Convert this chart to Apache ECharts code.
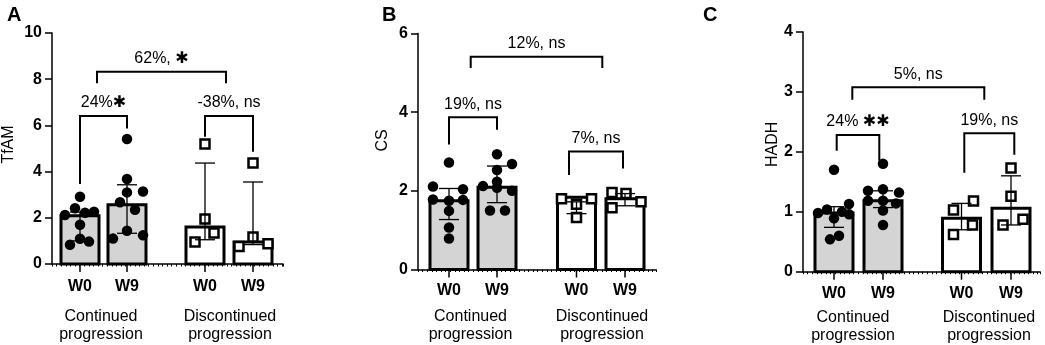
<!DOCTYPE html>
<html>
<head>
<meta charset="utf-8">
<script src="https://cdn.jsdelivr.net/npm/echarts@6/dist/echarts.min.js"></script>
<style>
html,body{margin:0;padding:0;background:#fff;}
#chart{width:1045px;height:345px;}
</style>
</head>
<body>
<div id="chart"></div>
<script>
// ---------- DATA ----------
const categories = ['W0', 'W9', 'W0', 'W9'];
const groupNames = ['Continued\nprogression', 'Discontinued\nprogression'];
const panelLetters = ['A', 'B', 'C'];
const yNames = ['TfAM', 'CS', 'HADH'];
const yMax = [10, 6, 4];
const yStep = [2, 2, 1];

// Panel A – TfAM
const tfamBar = [2.09, 2.57, 1.60, 0.95];
const tfamErrLow = [1.00, 1.33, 1.05, 0.84];
const tfamErrHigh = [2.25, 3.43, 4.37, 3.55];
const tfamContW0 = [2.91, 2.41, 2.12, 2.22, 2.26, 1.70, 1.09, 0.83, 0.97];
const tfamContW9 = [5.41, 3.68, 3.10, 3.14, 2.67, 2.35, 1.44, 1.10, 1.24];
const tfamDiscW0 = [5.19, 1.95, 1.34, 0.95];
const tfamDiscW9 = [4.37, 1.17, 0.76, 0.88];
// [label, top of bracket, left leg end, right leg end]
const tfamBrackets = [['24%✱', 6.41, 3.46, 5.87], ['-38%, ns', 6.41, 5.51, 4.86], ['62%, ✱', 8.32, 7.82, 7.82]];

// Panel B – CS
const csBar = [1.75, 2.09, 1.84, 1.80];
const csErrLow = [1.27, 1.70, 1.42, 1.62];
const csErrHigh = [2.06, 2.63, 1.72, 1.93];
const csContW0 = [2.72, 2.11, 2.04, 1.78, 1.77, 1.75, 1.49, 1.07, 0.79];
const csContW9 = [2.93, 2.68, 2.53, 2.23, 2.12, 2.08, 2.00, 1.50, 1.50];
const csDiscW0 = [1.80, 1.80, 1.66, 1.32];
const csDiscW9 = [1.96, 1.93, 1.72, 1.57];
const csBrackets = [['19%, ns', 3.87, 3.18, 3.55], ['7%, ns', 3.00, 2.40, 2.57], ['12%, ns', 5.41, 5.12, 5.12]];

// Panel C – HADH
const hadhBar = [0.98, 1.185, 0.89, 1.06];
const hadhErrLow = [0.74, 1.07, 0.70, 0.78];
const hadhErrHigh = [1.085, 1.35, 1.14, 1.60];
const hadhContW0 = [1.70, 0.98, 1.04, 1.00, 1.13, 0.89, 0.60, 0.54, 0.96];
const hadhContW9 = [1.80, 1.35, 1.375, 1.32, 1.185, 1.185, 1.14, 1.02, 0.78];
const hadhDiscW0 = [1.18, 1.03, 0.78, 0.62];
const hadhDiscW9 = [1.73, 1.26, 0.875, 0.78];
const hadhBrackets = [['24% ✱✱', 2.28, 2.02, 1.85], ['19%, ns', 2.31, 1.65, 1.95], ['5%, ns', 3.08, 2.87, 2.87]];

const panelData = [
  {bar: tfamBar, lo: tfamErrLow, hi: tfamErrHigh, pts: [tfamContW0, tfamContW9, tfamDiscW0, tfamDiscW9], br: tfamBrackets},
  {bar: csBar, lo: csErrLow, hi: csErrHigh, pts: [csContW0, csContW9, csDiscW0, csDiscW9], br: csBrackets},
  {bar: hadhBar, lo: hadhErrLow, hi: hadhErrHigh, pts: [hadhContW0, hadhContW9, hadhDiscW0, hadhDiscW9], br: hadhBrackets}
];

// ---------- LAYOUT (pixels, x axis in pixel units from the y axis) ----------
const layout = [
  {grid: {left: 52, top: 33, width: 231, height: 231}, cats: [28, 75, 153, 201],
   brX: [[28, 75], [153, 201], [45, 174]], groupX: [49, 178], groupDy: 44, labelMargin: 15,
   nameGap: 35, namePad: 8, letterX: 2,
   jitter: [[0, -5, -15, 5, 14, 0, 0, -10, 9], [0, 0, 0, 16, -7, 8, 0, -14, 16], [0, 0, 9, -10], [0, 0, -14, 15]]},
  {grid: {left: 418, top: 33.5, width: 238, height: 236}, cats: [31, 79, 158.5, 207],
   brX: [[31, 79], [151, 205], [52.7, 184.3]], groupX: [52.5, 184], groupDy: 38.5, labelMargin: 13,
   nameGap: 27, namePad: 22, letterX: 377,
   jitter: [[0, -16, 14, -16, 14, 0, 0, 0, 0], [0, 15, 0, 0, -14, 0, 15, -7, 8], [-15, 15, 0, 0], [-13, 1, 16, -13]]},
  {grid: {left: 803, top: 32, width: 237, height: 239.7}, cats: [31, 80, 158.5, 208],
   brX: [[33.7, 76.3], [161.3, 211.3], [49.3, 181.3]], groupX: [50, 186], groupDy: 36.5, labelMargin: 14,
   nameGap: 22, namePad: 15, letterX: 698,
   jitter: [[0, -16, -7, 8, 15, 0, 5, -4, 15], [0, -15, 0, 16, -15, 0, 13, 0, 0], [12, -8, 11, -8], [0, 0, 12, -8]]}
];

const FONT = 'Liberation Sans, Arial, Helvetica, DejaVu Sans, sans-serif';
const GRAY = '#d4d4d4';
const BAR_W = 38;

const grids = [], xAxes = [], yAxes = [], series = [], titles = [];

layout.forEach((L, p) => {
  const D = panelData[p];
  grids.push(Object.assign({containLabel: false, outerBoundsMode: 'none'}, L.grid));
  xAxes.push({
    type: 'value', gridIndex: p, min: 0, max: L.grid.width, interval: 4.6,
    splitLine: {show: false},
    axisLine: {show: true, onZero: false, lineStyle: {color: '#000', width: 1.5}},
    axisTick: {show: true, length: 2.5, lineStyle: {color: '#000', width: 1}},
    axisLabel: {
      show: true, customValues: L.cats, margin: L.labelMargin,
      color: '#000', fontFamily: FONT, fontWeight: 'bold', fontSize: 16,
      formatter: (v) => {
        let best = 0;
        L.cats.forEach((c, i) => { if (Math.abs(c - v) < Math.abs(L.cats[best] - v)) best = i; });
        return categories[best];
      }
    }
  });
  yAxes.push({
    type: 'value', gridIndex: p, min: 0, max: yMax[p], interval: yStep[p],
    name: yNames[p], nameLocation: 'middle', nameGap: L.nameGap,
    nameTextStyle: {color: '#000', fontFamily: FONT, fontSize: 16, padding: [0, 0, 0, L.namePad]},
    splitLine: {show: false},
    axisLine: {show: true, lineStyle: {color: '#000', width: 1.5}},
    axisTick: {show: true, length: 7, lineStyle: {color: '#000', width: 1.5}},
    axisLabel: {color: '#000', fontFamily: FONT, fontWeight: 'bold', fontSize: 16, margin: 10}
  });
  titles.push({text: panelLetters[p], left: L.letterX, top: 0,
    textStyle: {color: '#000', fontFamily: FONT, fontWeight: 'bold', fontSize: 20}});

  // bars
  series.push({
    type: 'custom', xAxisIndex: p, yAxisIndex: p, z: 1, silent: true, clip: false,
    data: D.bar.map((v, i) => [L.cats[i], v]),
    renderItem: (params, api) => {
      const top = api.coord([api.value(0), api.value(1)]);
      const base = api.coord([api.value(0), 0]);
      return {type: 'rect',
        shape: {x: top[0] - BAR_W / 2, y: top[1], width: BAR_W, height: base[1] - top[1]},
        style: {fill: params.dataIndex < 2 ? GRAY : '#fff', stroke: '#000', lineWidth: 3}};
    }
  });
  // points
  const contPts = [], discPts = [];
  D.pts.forEach((arr, i) => {
    arr.forEach((v, k) => {
      const item = [L.cats[i] + L.jitter[i][k], v];
      (i < 2 ? contPts : discPts).push(item);
    });
  });
  series.push({type: 'scatter', xAxisIndex: p, yAxisIndex: p, z: 2, silent: true,
    symbol: 'circle', symbolSize: 10.5, itemStyle: {color: '#000', opacity: 1}, data: contPts});
  series.push({type: 'scatter', xAxisIndex: p, yAxisIndex: p, z: 2, silent: true,
    symbol: 'rect', symbolSize: 9, itemStyle: {color: '#fff', borderColor: '#000', borderWidth: 2.5, opacity: 1}, data: discPts});
  // error bars
  series.push({
    type: 'custom', xAxisIndex: p, yAxisIndex: p, z: 3, silent: true, clip: false,
    data: D.bar.map((v, i) => [L.cats[i], D.lo[i], D.hi[i]]),
    renderItem: (params, api) => {
      const lo = api.coord([api.value(0), api.value(1)]);
      const hi = api.coord([api.value(0), api.value(2)]);
      const st = {stroke: '#000', lineWidth: 1.3};
      return {type: 'group', children: [
        {type: 'line', shape: {x1: lo[0], y1: lo[1], x2: hi[0], y2: hi[1]}, style: st},
        {type: 'line', shape: {x1: lo[0] - 10, y1: lo[1], x2: lo[0] + 10, y2: lo[1]}, style: st},
        {type: 'line', shape: {x1: hi[0] - 10, y1: hi[1], x2: hi[0] + 10, y2: hi[1]}, style: st}
      ]};
    }
  });
  // major ticks at categories
  series.push({
    type: 'custom', xAxisIndex: p, yAxisIndex: p, z: 3, silent: true, clip: false,
    data: L.cats.map(c => [c, 0]),
    renderItem: (params, api) => {
      const b = api.coord([api.value(0), 0]);
      return {type: 'line', shape: {x1: b[0], y1: b[1], x2: b[0], y2: b[1] + 8}, style: {stroke: '#000', lineWidth: 1.5}};
    }
  });
  // group labels
  series.push({
    type: 'custom', xAxisIndex: p, yAxisIndex: p, z: 3, silent: true, clip: false,
    data: L.groupX.map(g => [g, 0]),
    renderItem: (params, api) => {
      const b = api.coord([api.value(0), 0]);
      return {type: 'text', x: b[0], y: b[1] + L.groupDy,
        style: {text: groupNames[params.dataIndex], fill: '#000', fontFamily: FONT, fontSize: 16,
          lineHeight: 18, align: 'center', verticalAlign: 'top'}};
    }
  });
  // brackets with annotations
  series.push({
    type: 'custom', xAxisIndex: p, yAxisIndex: p, z: 3, silent: true, clip: false,
    data: D.br.map((b, i) => [L.brX[i][0], L.brX[i][1], b[1], b[2], b[3]]),
    renderItem: (params, api) => {
      const xl = api.value(0), xr = api.value(1);
      const top = api.value(2), ly = api.value(3), ry = api.value(4);
      const a = api.coord([xl, ly]), b = api.coord([xl, top]);
      const c = api.coord([xr, top]), d = api.coord([xr, ry]);
      return {type: 'group', children: [
        {type: 'polyline', shape: {points: [a, b, c, d]}, style: {stroke: '#000', lineWidth: 2, fill: null}},
        {type: 'text', x: (b[0] + c[0]) / 2, y: b[1] - 5,
          style: {text: D.br[params.dataIndex][0], fill: '#000', fontFamily: FONT, fontSize: 16,
            align: 'center', verticalAlign: 'bottom'}}
      ]};
    }
  });
});

const chart = echarts.init(document.getElementById('chart'), null, {renderer: 'canvas'});
chart.setOption({
  animation: false,
  backgroundColor: '#fff',
  title: titles,
  grid: grids,
  xAxis: xAxes,
  yAxis: yAxes,
  series: series
});
</script>
</body>
</html>
